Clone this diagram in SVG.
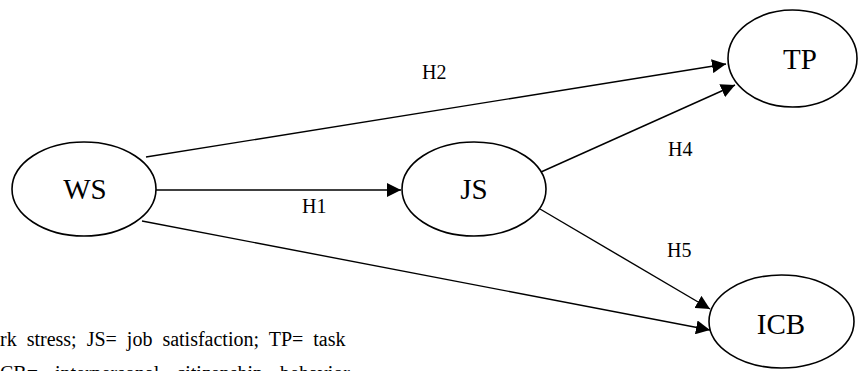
<svg xmlns="http://www.w3.org/2000/svg" width="860" height="371" viewBox="0 0 860 371">
<style>
.node ellipse{fill:#fff;stroke:#000;stroke-width:1.6}
.nt{font-family:"Liberation Serif","Times New Roman",serif;font-size:29px;fill:#000;text-anchor:middle}
.lb{font-family:"Liberation Serif","Times New Roman",serif;font-size:20px;fill:#000}
.edges line{stroke:#000;stroke-width:1.4;marker-end:url(#ah)}
.note{font-family:"Liberation Serif","Times New Roman",serif;font-size:20px;fill:#000}
</style>
<defs>
<marker id="ah" markerUnits="userSpaceOnUse" markerWidth="14" markerHeight="14" viewBox="0 0 14 14" refX="14" refY="7" orient="auto">
<path d="M0,0 L14,7 L0,14 Z" fill="#000"/>
</marker>
</defs>
<rect width="860" height="371" fill="#fff"/>
<g class="edges" id="connectors">
<line x1="146" y1="157" x2="726" y2="64"/>
<line x1="156" y1="190" x2="401" y2="190"/>
<line x1="541" y1="172" x2="735" y2="85"/>
<line x1="540" y1="209" x2="710" y2="309"/>
<line x1="142" y1="221" x2="710" y2="330"/>
</g>
<g id="labels">
<text class="lb" x="422" y="79">H2</text>
<text class="lb" x="302" y="213">H1</text>
<text class="lb" x="668" y="156">H4</text>
<text class="lb" x="667" y="257">H5</text>
</g>
<g class="node" id="WS"><ellipse cx="84" cy="189" rx="72" ry="47"/><text class="nt" x="85" y="199">WS</text></g>
<g class="node" id="JS"><ellipse cx="474" cy="189" rx="72" ry="47"/><text class="nt" x="474" y="199">JS</text></g>
<g class="node" id="TP"><ellipse cx="792.5" cy="58.5" rx="64.5" ry="48.5"/><text class="nt" x="800" y="69">TP</text></g>
<g class="node" id="ICB"><ellipse cx="781.5" cy="321.5" rx="72.5" ry="46.5"/><text class="nt" x="781" y="334">ICB</text></g>
<g id="note">
<text class="note" x="0" y="346" word-spacing="5">rk stress; JS= job satisfaction; TP= task</text>
<text class="note" x="0" y="380" word-spacing="12">CB= interpersonal citizenship behavior</text>
</g>
</svg>
